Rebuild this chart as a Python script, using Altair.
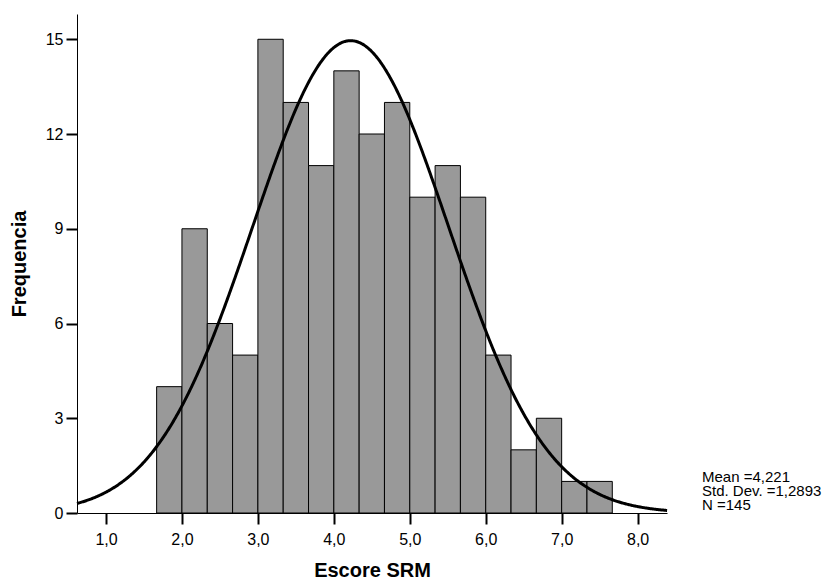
import altair as alt
import pandas as pd

# ---- data ----
counts = [4, 9, 6, 5, 15, 13, 11, 14, 12, 13, 10, 11, 10, 5, 2, 3, 1, 1]
first_edge = 5 / 3
bin_width = 1 / 3
x_ticks = [1, 2, 3, 4, 5, 6, 7, 8]
y_ticks = [0, 3, 6, 9, 12, 15]
mean_val = 4.221
sd_val = 1.2893
n_val = 145
stats_lines = ["Mean =4,221", "Std. Dev. =1,2893", "N =145"]
x_domain = [0.618, 8.387]
y_domain = [0, 15.8]

starts = [first_edge + i * bin_width for i in range(len(counts))]
ends = [s + bin_width for s in starts]
bars_df = pd.DataFrame({"start": starts, "end": ends, "count": counts})

FONT = "Liberation Sans"
W, H = 590, 499

xscale = alt.Scale(domain=x_domain, nice=False, zero=False)
yscale = alt.Scale(domain=y_domain, nice=False)

x_axis = alt.Axis(
    values=x_ticks,
    labelExpr="replace(format(datum.value, '.1f'), '.', ',')",
    grid=False, tickSize=11, tickWidth=2, tickColor="black",
    domainColor="black", domainWidth=1,
    labelFont=FONT, labelFontSize=16, labelColor="black", labelPadding=7,
    title="Escore SRM", titleFont=FONT, titleFontSize=20, titleFontWeight="bold",
    titleColor="black", titleX=W / 2, titleY=63, titleBaseline="alphabetic",
    titleAlign="center",
)
y_axis = alt.Axis(
    values=y_ticks,
    grid=False, tickSize=11, tickWidth=2, tickColor="black",
    domainColor="black", domainWidth=1,
    labelFont=FONT, labelFontSize=16, labelColor="black", labelPadding=3,
    title="Frequencia", titleFont=FONT, titleFontSize=20, titleFontWeight="bold",
    titleColor="black", titleX=-58, titleY=H / 2, titleAngle=-90,
    titleAlign="center", titleBaseline="middle",
)

bars = alt.Chart(bars_df).mark_bar(
    fill="#999999", stroke="black", strokeWidth=1, opacity=1
).encode(
    x=alt.X("start:Q", scale=xscale, axis=x_axis),
    x2="end:Q",
    y=alt.Y("count:Q", scale=yscale, axis=y_axis),
    y2=alt.datum(0),
)

curve = alt.Chart(
    alt.sequence(x_domain[0], x_domain[1] + 0.005, 0.01, as_="x")
).transform_calculate(
    y=f"{n_val * bin_width} * densityNormal(datum.x, {mean_val}, {sd_val})"
).mark_line(color="black", strokeWidth=3).encode(
    x=alt.X("x:Q", scale=xscale, axis=x_axis),
    y=alt.Y("y:Q", scale=yscale, axis=y_axis),
)

stats = alt.Chart(pd.DataFrame({"k": [0]})).mark_text(
    text=stats_lines, align="left", baseline="alphabetic",
    font=FONT, fontSize=15, lineHeight=13.9, color="black",
).encode(x=alt.value(625), y=alt.value(468))

chart = alt.layer(bars, curve, stats).properties(
    width=W, height=H,
    autosize=alt.AutoSizeParams(type="none"),
    padding={"left": 69, "top": 6, "right": 157, "bottom": 68},
).configure_view(stroke=None)

chart.save("out.html", embed_options={"renderer": "svg", "actions": False})
